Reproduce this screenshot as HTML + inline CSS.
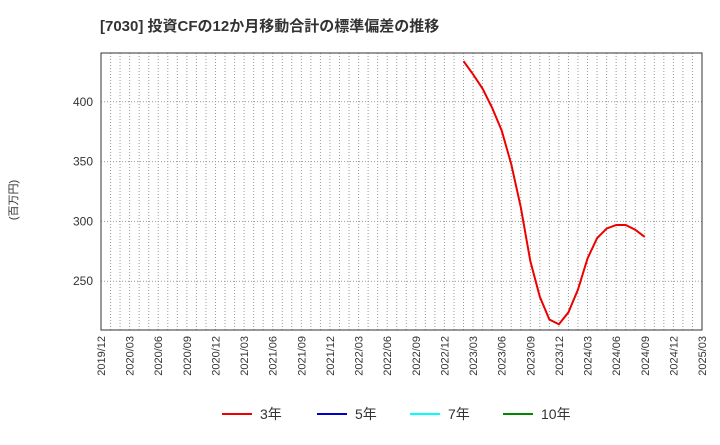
<!DOCTYPE html>
<html><head><meta charset="utf-8"><style>
body{margin:0;background:#fff;font-family:"Liberation Sans","Noto Sans CJK JP",sans-serif}
</style></head><body>
<svg id="c" width="720" height="440" xmlns="http://www.w3.org/2000/svg">
<text x="100" y="31" font-size="15" font-weight="bold" fill="#333" font-family="Liberation Sans, Noto Sans CJK JP, sans-serif">[7030]  投資CFの12か月移動合計の標準偏差の推移</text>
<text transform="translate(17,200) rotate(-90)" font-size="11" fill="#333" text-anchor="middle" font-family="Liberation Sans, Noto Sans CJK JP, sans-serif">(百万円)</text>
<g id="grid"></g><g id="axes"></g><g id="series"></g><g id="legend"></g>
</svg>
<script>
const yTicks=[250,300,350,400];
const xLabels=["2019/12","2020/03","2020/06","2020/09","2020/12","2021/03","2021/06","2021/09","2021/12","2022/03","2022/06","2022/09","2022/12","2023/03","2023/06","2023/09","2023/12","2024/03","2024/06","2024/09","2024/12","2025/03"];
const seriesStartMonth=38; // months after 2019/12 (2023/02)
const values3=[434,423,411,395,376,348,312,267,237,218,214,224,243,269,286,294,297,297,293,287];
const L=101,R=702,T=53,B=330,yMin=209.2,yMax=440.8,nMonths=63;
const ns="http://www.w3.org/2000/svg";
const X=m=>L+(R-L)*m/nMonths;
const Y=v=>B-(B-T)*(v-yMin)/(yMax-yMin);
function mk(t,a,p){const e=document.createElementNS(ns,t);for(const k in a)e.setAttribute(k,a[k]);p.appendChild(e);return e;}
const g=document.getElementById('grid'),ax=document.getElementById('axes'),s=document.getElementById('series'),lg=document.getElementById('legend');
for(let m=1;m<nMonths;m++){const l=mk('line',{x1:X(m),x2:X(m),y1:T,y2:B,stroke:'#999','stroke-dasharray':'1,2','stroke-width':1},g);
}
yTicks.forEach(v=>{const l=mk('line',{x1:L,x2:R,y1:Y(v),y2:Y(v),stroke:'#999','stroke-dasharray':'1,2'},g);

const t=mk('text',{x:L-8,y:Y(v)+4,'font-size':12,'text-anchor':'end',fill:'#333'},ax);t.textContent=v;
});
const fr=mk('rect',{x:L,y:T,width:R-L,height:B-T,fill:'none',stroke:'#333'},ax);

xLabels.forEach((lab,i)=>{const x=X(i*3);const t=mk('text',{transform:`translate(${x+4},${B+6}) rotate(-90)`,'font-size':11,'text-anchor':'end',fill:'#333'},ax);t.textContent=lab;
});
const pts=values3.map((v,i)=>X(seriesStartMonth+i)+','+Y(v)).join(' ');
const pl=mk('polyline',{points:pts,fill:'none',stroke:'#e00','stroke-width':2},s);

const leg=[["3年","#e00",222],["5年","#00c",317],["7年","#0ff",410],["10年","#080",503]];
leg.forEach(([n,c,x])=>{const ln=mk('line',{x1:x,x2:x+30,y1:414,y2:414,stroke:c,'stroke-width':2},lg);

const t=mk('text',{x:x+38,y:419,'font-size':14,fill:'#333','font-family':'Liberation Sans, Noto Sans CJK JP, sans-serif'},lg);t.textContent=n;
});
</script>
</body></html>
